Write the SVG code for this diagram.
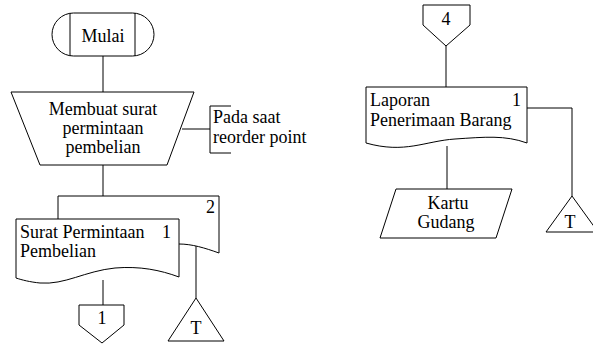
<svg xmlns="http://www.w3.org/2000/svg" width="593" height="344" viewBox="0 0 593 344">
<rect width="593" height="344" fill="#fff"/>
<g id="connectors" fill="none" stroke="#000" stroke-width="1">
<path d="M103,56V92"/>
<path d="M103,165V196"/>
<path d="M182,129H210"/>
<path d="M103,280V305"/>
<path d="M196,245V298"/>
<path d="M446,46V87"/>
<path d="M447,146V189"/>
<path d="M527,108H572V196"/>
</g>
<g id="mulai">
<rect fill="#fff" stroke="#000" x="52" y="13" width="102" height="43" rx="21.5"/>
<path fill="none" stroke="#000" d="M70,13V56M135,13V56"/>
<text font-family="Liberation Serif" font-size="18" text-anchor="middle" x="103" y="42">Mulai</text>
</g>
<g id="membuat">
<path fill="#fff" stroke="#000" d="M11,92H194L167,165H40Z"/>
<text font-family="Liberation Serif" font-size="18" text-anchor="middle" x="103" y="115">Membuat surat</text>
<text font-family="Liberation Serif" font-size="18" text-anchor="middle" x="103" y="134">permintaan</text>
<text font-family="Liberation Serif" font-size="18" text-anchor="middle" x="103" y="153">pembelian</text>
</g>
<g id="note">
<path fill="none" stroke="#000" d="M231,106H210V153H231"/>
<text font-family="Liberation Serif" font-size="18" x="213" y="123">Pada saat</text>
<text font-family="Liberation Serif" font-size="18" x="213" y="143">reorder point</text>
</g>
<g id="doc2">
<path fill="#fff" stroke="#000" d="M58,219V196H219V253C205,248 192,244 179,244"/>
<text font-family="Liberation Serif" font-size="18" x="206" y="213">2</text>
</g>
<g id="doc1">
<path fill="#fff" stroke="#000" d="M16,219H179V277C160,270 140,266 115,268C85,271 65,285 40,283C30,282 22,280 16,278Z"/>
<text font-family="Liberation Serif" font-size="18" x="20" y="238">Surat Permintaan</text>
<text font-family="Liberation Serif" font-size="18" x="162" y="238">1</text>
<text font-family="Liberation Serif" font-size="18" x="20" y="257">Pembelian</text>
</g>
<g id="off1">
<path fill="#fff" stroke="#000" d="M79,305H124V325L102,343L79,325Z"/>
<text font-family="Liberation Serif" font-size="18" text-anchor="middle" x="102" y="324">1</text>
</g>
<g id="t1">
<path fill="#fff" stroke="#000" d="M196,298L224,341H168Z"/>
<text font-family="Liberation Serif" font-size="18" text-anchor="middle" x="196" y="334">T</text>
</g>
<g id="off4">
<path fill="#fff" stroke="#000" d="M423,5H470V25L446,46L423,25Z"/>
<text font-family="Liberation Serif" font-size="18" text-anchor="middle" x="446" y="25">4</text>
</g>
<g id="doc3">
<path fill="#fff" stroke="#000" d="M366,87H527V143C505,135 485,137 455,139C425,141 405,154 366,143Z"/>
<text font-family="Liberation Serif" font-size="18" x="370" y="106">Laporan</text>
<text font-family="Liberation Serif" font-size="18" x="512" y="106">1</text>
<text font-family="Liberation Serif" font-size="18" x="370" y="126">Penerimaan Barang</text>
</g>
<g id="kartu">
<path fill="#fff" stroke="#000" d="M396,189H512L496,238H380Z"/>
<text font-family="Liberation Serif" font-size="18" text-anchor="middle" x="448" y="209">Kartu</text>
<text font-family="Liberation Serif" font-size="18" text-anchor="middle" x="446" y="228">Gudang</text>
</g>
<g id="t2">
<path fill="#fff" stroke="#000" d="M572,196L598,232H546Z"/>
<text font-family="Liberation Serif" font-size="18" text-anchor="middle" x="570" y="228">T</text>
</g>
</svg>
